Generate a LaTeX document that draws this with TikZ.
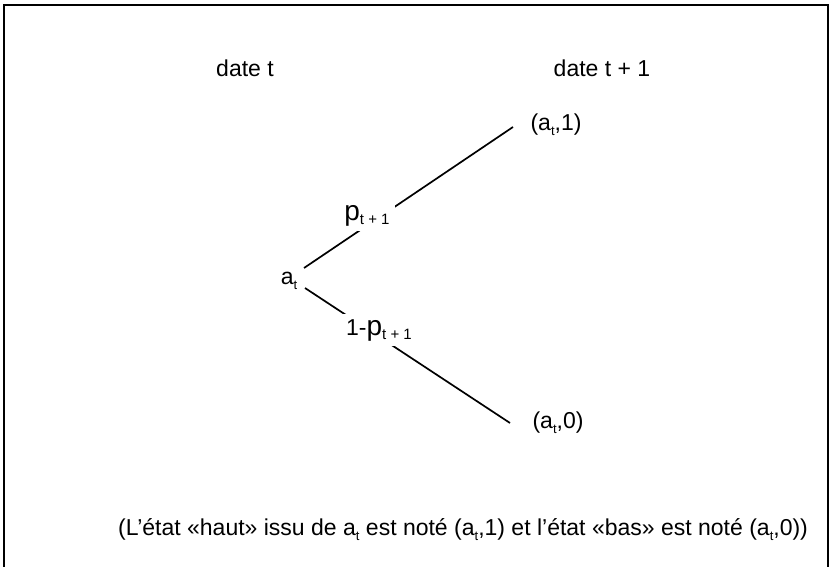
\documentclass[tikz,border=0pt]{standalone}
\usepackage{fontspec}
\setmainfont{Liberation Sans}
\newcommand\sbx[1]{\raisebox{-0.4ex}{\fontsize{13}{14}\selectfont #1}}
\newcommand\sbp[1]{\raisebox{-0.35ex}{\fontsize{15}{16}\selectfont #1}}
\newcommand\bigp{{\fontsize{28}{28}\selectfont p}}
\begin{document}
\begin{tikzpicture}[x=1pt,y=-1pt,
  txt/.style={inner sep=0pt,font=\fontsize{23}{26}\selectfont},
  lbl/.style={txt,fill=white,inner sep=5pt},
  branch/.style={line width=1.7pt}]
\useasboundingbox (0,0) rectangle (830,567);
\draw[line width=1.8pt] (4,567) -- (4,5) -- (828,5) -- (828,567);
\node[txt] (dt) at (245,68) {date t};
\node[txt] (dt1) at (602,68) {date t + 1};
\node[txt] (at) at (289,281) {a\sbx{t}};
\node[txt] (up) at (556,125) {(a\sbx{t},1)};
\node[txt] (dn) at (558,423) {(a\sbx{t},0)};
\coordinate (u0) at (304,268);
\coordinate (u1) at (513,127);
\coordinate (d0) at (305,288);
\coordinate (d1) at (510,423);
\draw[branch] (u0) -- (u1);
\draw[branch] (d0) -- (d1);
\node[lbl] (pu) at (367,216) {\bigp\sbp{t + 1}};
\node[lbl] (pd) at (379,330) {1-\bigp\sbp{t + 1}};
\node[txt] (note) at (463,530) {(L’état «haut» issu de a\sbx{t} est noté (a\sbx{t},1) et l’état «bas» est noté (a\sbx{t},0))};
\end{tikzpicture}
\end{document}
